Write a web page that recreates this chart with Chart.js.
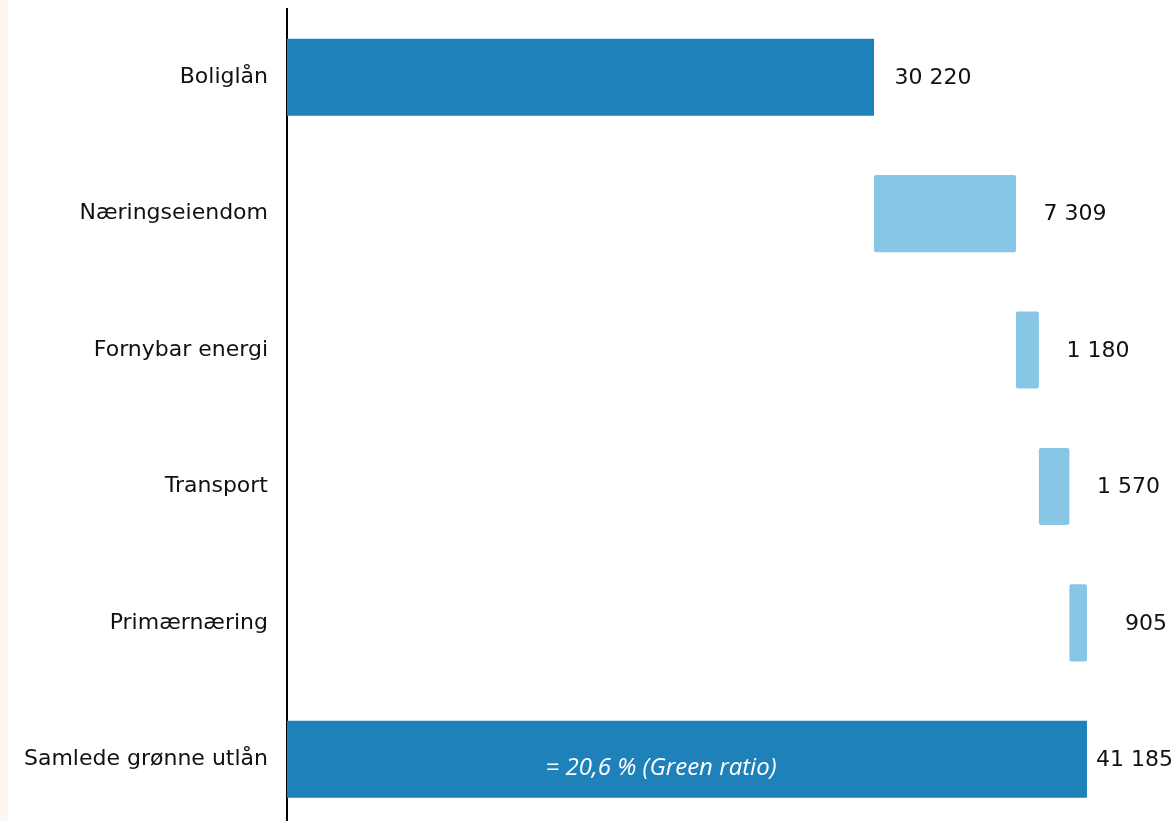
<!DOCTYPE html>
<html>
<head>
<meta charset="utf-8">
<script src="https://cdn.jsdelivr.net/npm/chart.js@4"></script>
<style>
  html, body { margin: 0; padding: 0; overflow: hidden; background: #ffffff; }
  #strip { position: absolute; left: 0; top: 0; width: 8px; height: 821px; background: #fdf7f2; }
  #wrap { position: absolute; left: 0; top: 0; width: 1176px; height: 828px; }
</style>
</head>
<body>
<div id="strip"></div>
<div id="wrap"><canvas id="c" width="1176" height="828"></canvas></div>
<script>
const categories = ["Boliglån", "Næringseiendom", "Fornybar energi", "Transport", "Primærnæring", "Samlede grønne utlån"];
const values = [30220, 7309, 1180, 1570, 905];
const total = 41185;
const valueLabels = ["30 220", "7 309", "1 180", "1 570", "905", "41 185"];
const ratioText = "= 20,6 % (Green ratio)";

const darkBlue = "#1f81ba";
const lightBlue = "#87c6e5";

// floating bars: cumulative waterfall
const ranges = [];
let run = 0;
values.forEach((v) => {
  ranges.push([run, run + v]);
  run += v;
});
ranges.push([0, total]);
const isTotalLike = categories.map((c, i) => i === 0 || i === categories.length - 1);
const colors = isTotalLike.map(t => t ? darkBlue : lightBlue);
const radii = isTotalLike.map(t => t ? 0 : 2);

const labelFont = "22px 'DejaVu Sans'";

const valuePlugin = {
  id: "valueLabels",
  afterDatasetsDraw(chart) {
    const ctx = chart.ctx;
    const meta = chart.getDatasetMeta(0);
    ctx.save();
    ctx.font = labelFont;
    ctx.fillStyle = "#111111";
    ctx.textAlign = "center";
    ctx.textBaseline = "middle";
    meta.data.forEach((bar, i) => {
      const txt = valueLabels[i];
      const w = ctx.measureText(txt).width;
      let cx = bar.x + 59;
      cx = Math.min(cx, chart.width - w / 2 - 3);
      ctx.fillText(txt, cx, bar.y + 1);
    });
    // ratio text inside total bar
    const last = meta.data[meta.data.length - 1];
    ctx.font = "italic 24px 'Open Sans'";
    ctx.fillStyle = "#ffffff";
    const mid = (last.base + last.x) / 2;
    ctx.fillText(ratioText, mid - 26, last.y + 9);
    ctx.restore();
  }
};

new Chart(document.getElementById("c"), {
  type: "bar",
  data: {
    labels: categories,
    datasets: [{
      data: ranges,
      backgroundColor: colors,
      borderRadius: radii,
      borderWidth: 0,
      borderSkipped: false,
      barPercentage: 0.5645,
      categoryPercentage: 1.0
    }]
  },
  options: {
    indexAxis: "y",
    responsive: false,
    animation: false,
    devicePixelRatio: 1,
    layout: { padding: { top: 9, right: 0, bottom: 0.5, left: 0 } },
    plugins: { legend: { display: false }, tooltip: { enabled: false } },
    scales: {
      x: {
        display: false,
        min: 0,
        max: 45768,
        grid: { display: false }
      },
      y: {
        afterFit(scale) {
          scale.width = 287;
          scale.paddingTop = 0;
          scale.paddingBottom = 0;
        },
        grid: { display: false, drawTicks: false },
        border: { display: true, color: "#000000", width: 2 },
        ticks: {
          color: "#111111",
          font: { family: "'DejaVu Sans'", size: 22 },
          padding: 19
        }
      }
    }
  },
  plugins: [valuePlugin]
});
</script>
</body>
</html>
